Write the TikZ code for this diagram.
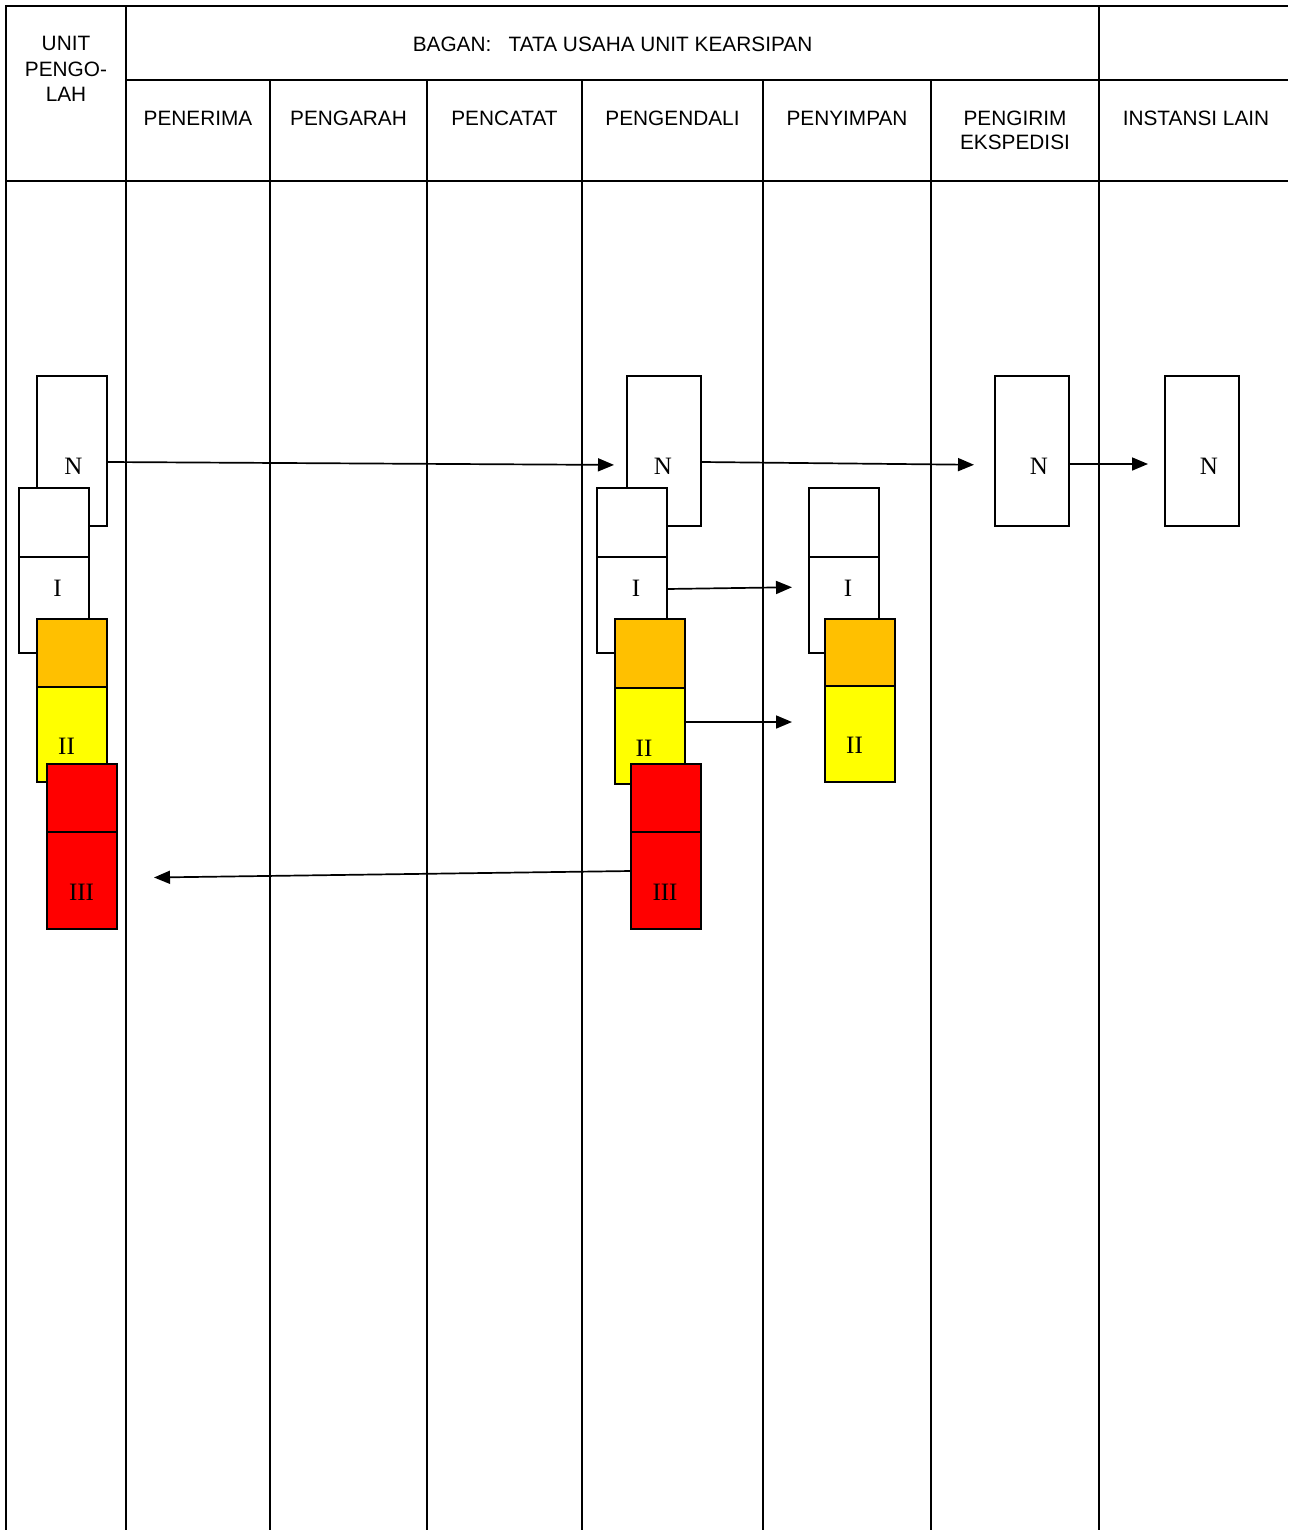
\documentclass[tikz,border=0pt]{standalone}
\usepackage{fontspec}
\setmainfont{Liberation Serif}
\newfontfamily\hdr{Liberation Sans}
\usetikzlibrary{arrows.meta,calc}
\definecolor{orng}{HTML}{FFC000}
\definecolor{ylw}{HTML}{FFFF00}
\definecolor{rd}{HTML}{FF0000}
\begin{document}
\begin{tikzpicture}[x=1pt,y=-1pt,
  frame/.style={line width=2pt},
  hd/.style={font=\hdr\fontsize{20.8}{24.6}\selectfont, inner sep=0pt, align=center},
  box/.style={draw, line width=1.7pt, minimum width=70pt, inner sep=0pt, outer sep=0pt},
  lab/.style={font=\fontsize{25}{28}\selectfont, inner sep=0pt, anchor=base},
  arr/.style={line width=1.7pt, -{Triangle[length=16pt,width=13pt]}}]
\useasboundingbox (0,0) rectangle (1288,1530);
% frame
\draw[frame] (6,1530) -- (6,6) -- (1288,6);
\draw[frame] (126,6) -- (126,1530);
\draw[frame] (1099,6) -- (1099,1530);
\draw[frame] (126,80) -- (1288,80);
\draw[frame] (6,181) -- (1288,181);
\foreach \x in {270,427,582,763,931} \draw[frame] (\x,80) -- (\x,1530);
% header
\node[hd, anchor=north, font=\hdr\fontsize{20.8}{25.5}\selectfont] (hUnit) at (66,36) {UNIT\\PENGO-\\LAH};
\node[hd, anchor=base] (hBagan) at (612.5,51.5) {BAGAN:\ \ \ TATA USAHA UNIT KEARSIPAN};
\node[hd, anchor=base] (hPenerima) at (198,126) {PENERIMA};
\node[hd, anchor=base] (hPengarah) at (348.5,126) {PENGARAH};
\node[hd, anchor=base] (hPencatat) at (504.5,126) {PENCATAT};
\node[hd, anchor=base] (hPengendali) at (672.5,126) {PENGENDALI};
\node[hd, anchor=base] (hPenyimpan) at (847,126) {PENYIMPAN};
\node[hd, anchor=north, font=\hdr\fontsize{20.8}{23.4}\selectfont] (hPengirim) at (1015,111) {PENGIRIM\\EKSPEDISI};
\node[hd, anchor=base] (hInstansi) at (1196,126) {INSTANSI LAIN};
% left stack (UNIT PENGOLAH)
\node[box, fill=white, minimum height=150pt] (nL) at (72,451) {};
\node[lab] (labNL) at (73.5,474) {N};
\node[box, fill=white, minimum height=165pt] (iL) at (54,570.5) {};
\draw[line width=1.7pt] (iL.north west) ++(0,69) -- ++(70,0);
\node[lab] (labIL) at (57.5,596) {I};
\node[box, fill=ylw, minimum height=163pt] (yL) at (72,700.5) {};
\filldraw[fill=orng, line width=1.7pt] (yL.north west) rectangle ++(70,68);
\node[lab] (labIIL) at (66.5,754) {II};
\node[box, fill=rd, minimum height=165pt] (rL) at (82,846.5) {};
\draw[line width=1.7pt] (rL.north west) ++(0,68) -- ++(70,0);
\node[lab] (labIIIL) at (81.5,900) {III};
% middle stack (PENGENDALI)
\node[box, fill=white, minimum width=74pt, minimum height=150pt] (nM) at (664,451) {};
\node[lab] (labNM) at (663,474) {N};
\node[box, fill=white, minimum height=165pt] (iM) at (632,570.5) {};
\draw[line width=1.7pt] (iM.north west) ++(0,69) -- ++(70,0);
\node[lab] (labIM) at (636,596) {I};
\node[box, fill=ylw, minimum height=165pt] (yM) at (650,701.5) {};
\filldraw[fill=orng, line width=1.7pt] (yM.north west) rectangle ++(70,69);
\node[lab] (labIIM) at (644,756) {II};
\node[box, fill=rd, minimum height=165pt] (rM) at (666,846.5) {};
\draw[line width=1.7pt] (rM.north west) ++(0,68) -- ++(70,0);
\node[lab] (labIIIM) at (665,900) {III};
% right stack (PENYIMPAN)
\node[box, fill=white, minimum height=165pt] (iR) at (844,570.5) {};
\draw[line width=1.7pt] (iR.north west) ++(0,69) -- ++(70,0);
\node[lab] (labIR) at (848,596) {I};
\node[box, fill=ylw, minimum height=163pt] (yR) at (860,700.5) {};
\filldraw[fill=orng, line width=1.7pt] (yR.north west) rectangle ++(70,67);
\node[lab] (labIIR) at (854.5,753) {II};
% N boxes
\node[box, fill=white, minimum width=74pt, minimum height=150pt] (nP) at (1032,451) {};
\node[lab] (labNP) at (1039,474) {N};
\node[box, fill=white, minimum width=74pt, minimum height=150pt] (nI) at (1202,451) {};
\node[lab] (labNI) at (1209,474) {N};
% arrows
\draw[arr, shorten >=13pt] ([yshift=-11pt]nL.east) -- ([yshift=-14pt]nM.west);
\draw[arr, shorten >=21pt] ([yshift=-11pt]nM.east) -- ([yshift=-14pt]nP.west);
\draw[arr, shorten >=17pt] ([yshift=-13pt]nP.east) -- ([yshift=-13pt]nI.west);
\draw[arr, shorten >=17pt] ([yshift=-18.5pt]iM.east) -- ([yshift=-16.5pt]iR.west);
\draw[arr, shorten >=33pt] ([yshift=-20.5pt]yM.east) -- ([yshift=-21.5pt]yR.west);
\draw[arr, shorten >=37pt] ([yshift=-24.5pt]rM.west) -- ([yshift=-31.5pt]rL.east);
\end{tikzpicture}
\end{document}
